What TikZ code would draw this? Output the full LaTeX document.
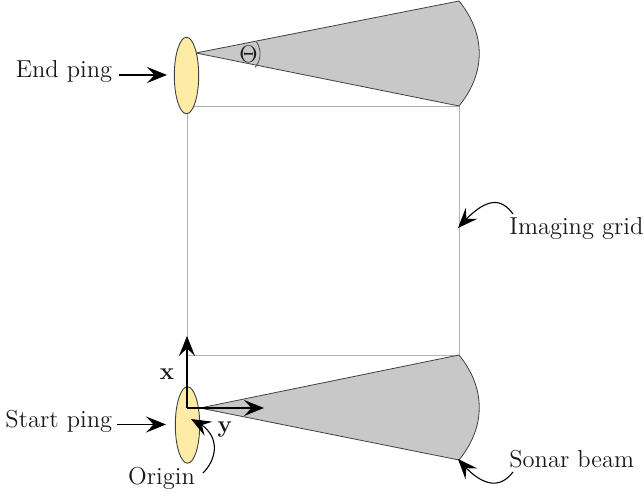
\documentclass[tikz,border=0pt]{standalone}
\usetikzlibrary{arrows.meta,shapes.geometric,bending}
\definecolor{pingc}{HTML}{FDEBA6}
\definecolor{beamc}{HTML}{C8C8C8}
\tikzset{
  lbl/.style={inner sep=0pt,font=\fontsize{12.25}{14}\selectfont,text=black!90},
  ping/.style={shape=ellipse,draw=black!75,fill=pingc,line width=0.45pt,inner sep=0pt,minimum width=12.2pt,minimum height=38.2pt},
  beam/.style={draw=black!75,fill=beamc,line width=0.4pt},
  grid line/.style={draw=black!30,line width=0.4pt},
  arr/.style={line width=0.55pt,-{Stealth[length=10pt,width=8pt,inset=3.8pt,flex]}},
}
\begin{document}
\begin{tikzpicture}[x=0.5pt,y=-0.5pt]
\useasboundingbox (0,0) rectangle (644,496);
% grid
\coordinate (g1) at (187,106);
\coordinate (g2) at (459,106);
\coordinate (g3) at (459,355);
\coordinate (g4) at (187,355);
\draw[grid line] (g1) -- (g2) -- (g3) -- (g4) -- cycle;
% beams
\coordinate (ta) at (196,53);
\coordinate (tb) at (459,1);
\coordinate (tc) at (459,106);
\coordinate (ba) at (200,408);
\coordinate (bb) at (459,355);
\coordinate (bc) at (459,460);
\draw[beam] (ta) -- (tb) .. controls (486,34) and (486,73) .. (tc) -- cycle;
\draw[beam] (ba) -- (bb) .. controls (486,388) and (486,427) .. (bc) -- cycle;
\draw[black!70,line width=0.4pt] (256.5,42) .. controls (261.5,49) and (261.5,60) .. (255,67.5);
\node[lbl] (theta) at (248.5,54.5) {$\Theta$};
% pings
\node[ping] (endp) at (186.5,75.5) {};
\node[ping] (startp) at (187.5,425) {};
% axes
\coordinate (o) at (187,408);
\coordinate (xe) at (187,336);
\coordinate (ye) at (264,408);
\draw[arr,line width=0.7pt] (o) -- (xe);
\draw[arr,line width=0.7pt] (o) -- (ye);
\node[lbl] at (167,374) (xl) {$\mathbf{x}$};
\node[lbl] at (225,430) (yl) {$\mathbf{y}$};
% labels
\node[lbl,anchor=east] (endl) at (112.5,72) {End ping};
\node[lbl,anchor=east] (startl) at (112.5,421) {Start ping};
\node[lbl] (orl) at (161.5,478) {Origin};
\node[lbl,anchor=west] (igl) at (509,229) {Imaging grid};
\node[lbl,anchor=west] (sbl) at (509,459) {Sonar beam};
% arrows
\coordinate (e1) at (119,75);
\coordinate (e2) at (167,75);
\coordinate (s1) at (117,424.5);
\coordinate (s2) at (166,424.5);
\draw[arr] (e1) -- (e2);
\draw[arr] (s1) -- (s2);
\coordinate (o1) at (203,473);
\coordinate (o2) at (191,419);
\coordinate (i1) at (513,214);
\coordinate (i2) at (458,228);
\coordinate (b1) at (513,472);
\coordinate (b2) at (458,459);
\draw[arr] (o1) .. controls (218,458) and (222,432) .. (o2);
\draw[arr] (i1) .. controls (500,196) and (484,198) .. (i2);
\draw[arr] (b1) .. controls (500,489) and (482,488) .. (b2);
\end{tikzpicture}
\end{document}
